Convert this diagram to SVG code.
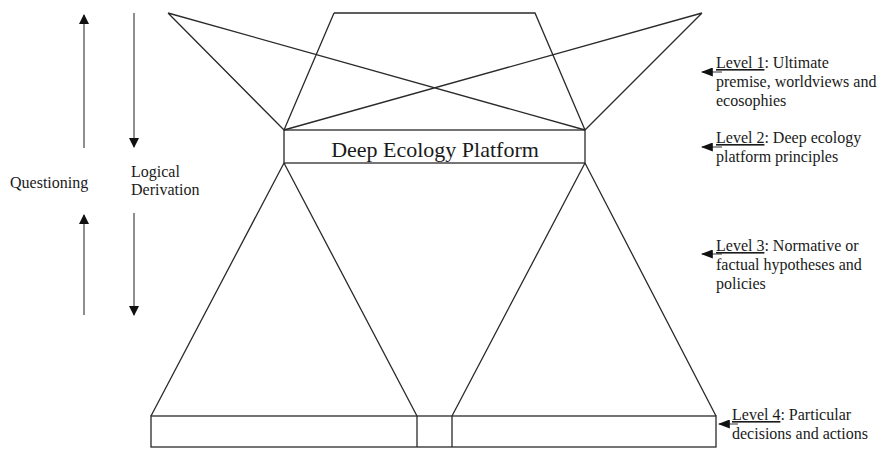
<svg xmlns="http://www.w3.org/2000/svg" width="883" height="449" viewBox="0 0 883 449">
<defs>
<style>
.ln{fill:none;stroke:#2a2a2a;stroke-width:1.3}
.ar{fill:none;stroke:#8f8f8f;stroke-width:2}
.lb{fill:none;stroke:#555;stroke-width:1.2}
.t{font-family:"Liberation Serif","Times New Roman",serif;font-size:16px;fill:#1a1a1a}
.big{font-size:22px}
.u{text-decoration:underline}
</style>
<marker id="ah" viewBox="0 0 10 10" refX="9" refY="5" markerWidth="10" markerHeight="10" markerUnits="userSpaceOnUse" orient="auto">
<path d="M0,0 L10,5 L0,10 Z" fill="#111"/>
</marker>
<marker id="lh" viewBox="0 0 10 10" refX="9" refY="5" markerWidth="12" markerHeight="9" markerUnits="userSpaceOnUse" orient="auto" preserveAspectRatio="none">
<path d="M0,0 L10,5 L0,10 Z" fill="#111"/>
</marker>
</defs>
<rect width="883" height="449" fill="#fff"/>

<g id="level1-worldviews">
<path class="ln" d="M334,13 L535,13 L585,130 M334,13 L284,130 M168,13 L585,130 M168,13 L284,130 M702,13 L284,130 M702,13 L585,130"/>
</g>

<g id="level2-platform">
<rect class="ln" x="284" y="130" width="301" height="33"/>
<text class="t big" x="435" y="157" text-anchor="middle">Deep Ecology Platform</text>
</g>

<g id="level3-hypotheses">
<path class="ln" d="M284,163 L151,416 M284,163 L417,416 M585,163 L452,416 M585,163 L716,416"/>
</g>

<g id="level4-actions">
<rect class="ln" x="151" y="416" width="565" height="31"/>
<path class="ln" d="M417,416 V447 M452,416 V447"/>
</g>

<g id="connectors">
<path class="ar" d="M84,148 V15" marker-end="url(#ah)"/>
<path class="ar" d="M134,13 V147" marker-end="url(#ah)"/>
<path class="ar" d="M84,315 V215" marker-end="url(#ah)"/>
<path class="ar" d="M134,213 V315" marker-end="url(#ah)"/>
<path class="lb" d="M722,72 H702" marker-end="url(#lh)"/>
<path class="lb" d="M722,147 H702" marker-end="url(#lh)"/>
<path class="lb" d="M722,254 H702" marker-end="url(#lh)"/>
<path class="lb" d="M738,424 H719" marker-end="url(#lh)"/>
</g>

<g id="labels-left">
<text class="t" x="10" y="188">Questioning</text>
<text class="t" x="131" y="177">Logical</text>
<text class="t" x="131" y="195">Derivation</text>
</g>

<g id="label-level1">
<text class="t" x="716" y="68"><tspan class="u">Level 1</tspan>: Ultimate</text>
<text class="t" x="716" y="87">premise, worldviews and</text>
<text class="t" x="716" y="106">ecosophies</text>
</g>
<g id="label-level2">
<text class="t" x="716" y="143"><tspan class="u">Level 2</tspan>: Deep ecology</text>
<text class="t" x="716" y="162">platform principles</text>
</g>
<g id="label-level3">
<text class="t" x="716" y="251"><tspan class="u">Level 3</tspan>: Normative or</text>
<text class="t" x="716" y="270">factual hypotheses and</text>
<text class="t" x="716" y="289">policies</text>
</g>
<g id="label-level4">
<text class="t" x="732" y="420"><tspan class="u">Level 4</tspan>: Particular</text>
<text class="t" x="732" y="439">decisions and actions</text>
</g>
</svg>
